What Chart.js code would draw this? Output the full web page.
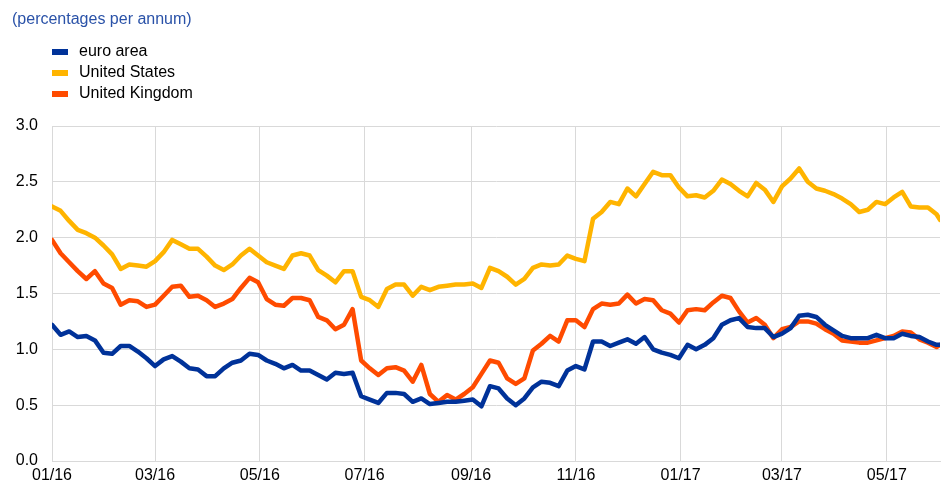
<!DOCTYPE html>
<html lang="en">
<head>
    <meta charset="UTF-8">
    <title>Ten-year government bond yields</title>
    <style>
        body {
            margin: 0;
            background-color: white;
        }
        .container {
            position: relative;
            width: 944px;
            height: 488px;
        }
    </style>
    <script src="https://cdn.jsdelivr.net/npm/chart.js"></script>
</head>
<body>

<div class="container">
    <canvas id="yieldChart"></canvas>
</div>

<script>
    // x positions: days since 1 Jan 2016, sampled every 5 days up to 1 Jun 2017
    const days = [];
    for (let d = 0; d <= 515; d += 5) days.push(d);
    days.push(517);

    // month starts for the axis ticks
    const monthDays = [0, 60, 121, 182, 244, 305, 366, 425, 486];
    const tickLabels = ['01/16', '03/16', '05/16', '07/16', '09/16', '11/16', '01/17', '03/17', '05/17'];

    const seriesNames = ['euro area', 'United States', 'United Kingdom'];

    const euroArea = [
        1.22, 1.13, 1.16, 1.11, 1.12, 1.08, 0.97, 0.96, 1.03, 1.03,
        0.98, 0.92, 0.85, 0.91, 0.94, 0.89, 0.83, 0.82, 0.76, 0.76,
        0.83, 0.88, 0.90, 0.96, 0.95, 0.90, 0.87, 0.83, 0.86, 0.81,
        0.81, 0.77, 0.73, 0.79, 0.78, 0.79, 0.58, 0.55, 0.52, 0.61,
        0.61, 0.60, 0.53, 0.56, 0.51, 0.52, 0.53, 0.53, 0.54, 0.55,
        0.49, 0.67, 0.65, 0.56, 0.50, 0.56, 0.66, 0.71, 0.70, 0.67,
        0.81, 0.85, 0.82, 1.07, 1.07, 1.03, 1.06, 1.09, 1.05, 1.11,
        1.00, 0.97, 0.95, 0.92, 1.04, 1.00, 1.04, 1.10, 1.22, 1.26,
        1.28, 1.20, 1.19, 1.19, 1.11, 1.14, 1.19, 1.30, 1.31, 1.29,
        1.22, 1.17, 1.12, 1.10, 1.10, 1.10, 1.13, 1.10, 1.10, 1.14,
        1.12, 1.11, 1.07, 1.04, 1.04
    ];

    const unitedStates = [
        2.28, 2.24, 2.15, 2.07, 2.04, 2.00, 1.93, 1.85, 1.72, 1.76,
        1.75, 1.74, 1.79, 1.87, 1.98, 1.94, 1.90, 1.90, 1.83, 1.75,
        1.71, 1.76, 1.84, 1.90, 1.84, 1.78, 1.75, 1.72, 1.84, 1.86,
        1.84, 1.71, 1.66, 1.60, 1.70, 1.70, 1.47, 1.44, 1.38, 1.54,
        1.58, 1.58, 1.48, 1.56, 1.53, 1.56, 1.57, 1.58, 1.58, 1.59,
        1.55, 1.73, 1.70, 1.65, 1.58, 1.63, 1.73, 1.76, 1.75, 1.76,
        1.84, 1.81, 1.79, 2.17, 2.23, 2.32, 2.30, 2.44, 2.37, 2.48,
        2.59, 2.56, 2.56, 2.45, 2.37, 2.38, 2.36, 2.42, 2.52, 2.48,
        2.42, 2.37, 2.49, 2.43, 2.32, 2.46, 2.53, 2.62, 2.50, 2.44,
        2.42, 2.39, 2.35, 2.30, 2.23, 2.25, 2.32, 2.30, 2.36, 2.41,
        2.28, 2.27, 2.27, 2.21, 2.16
    ];

    const unitedKingdom = [
        1.98, 1.86, 1.78, 1.70, 1.63, 1.70, 1.59, 1.55, 1.40, 1.44,
        1.43, 1.38, 1.40, 1.48, 1.56, 1.57, 1.47, 1.48, 1.44, 1.38,
        1.41, 1.45, 1.55, 1.64, 1.60, 1.45, 1.40, 1.39, 1.46, 1.46,
        1.44, 1.29, 1.26, 1.18, 1.22, 1.36, 0.90, 0.83, 0.77, 0.83,
        0.84, 0.81, 0.71, 0.86, 0.60, 0.53, 0.59, 0.55, 0.60, 0.66,
        0.78, 0.90, 0.88, 0.74, 0.69, 0.74, 0.99, 1.05, 1.12, 1.07,
        1.26, 1.26, 1.20, 1.36, 1.41, 1.40, 1.41, 1.49, 1.41, 1.45,
        1.44, 1.35, 1.32, 1.24, 1.35, 1.36, 1.35, 1.42, 1.48, 1.46,
        1.34, 1.24, 1.28, 1.22, 1.10, 1.18, 1.20, 1.25, 1.25, 1.23,
        1.18, 1.14, 1.08, 1.07, 1.06, 1.06, 1.08, 1.10, 1.12, 1.16,
        1.15, 1.09, 1.06, 1.02, 1.04
    ];

    const colors = ['#003299', '#FFB400', '#FF4B00'];
    const fontFamily = 'Arial, "Liberation Sans", sans-serif';
    const gridColor = '#d9d9d9';

    function toPoints(values) {
        return values.map((v, i) => ({ x: days[i], y: v }));
    }

    // title and one-per-line legend drawn above the plot
    const headerPlugin = {
        id: 'header',
        afterDraw(chart) {
            const ctx = chart.ctx;
            ctx.save();
            ctx.font = '16px ' + fontFamily;
            ctx.textBaseline = 'middle';
            ctx.textAlign = 'left';
            ctx.fillStyle = '#2a52a8';
            ctx.fillText('(percentages per annum)', 12, 20);
            chart.data.datasets.forEach((ds, i) => {
                const y = 52 + i * 21;
                ctx.fillStyle = ds.borderColor;
                ctx.fillRect(52, y - 3, 16, 6);
                ctx.fillStyle = '#000';
                ctx.fillText(ds.label, 79, y);
            });
            ctx.restore();
        }
    };

    const lineStyle = {
        borderWidth: 4.5,
        pointRadius: 0,
        tension: 0,
        fill: false,
        borderJoinStyle: 'round',
        borderCapStyle: 'round'
    };

    const ctx = document.getElementById('yieldChart').getContext('2d');
    const yieldChart = new Chart(ctx, {
        type: 'line',
        data: {
            datasets: [
                Object.assign({ label: seriesNames[0], data: toPoints(euroArea), borderColor: colors[0], backgroundColor: colors[0] }, lineStyle),
                Object.assign({ label: seriesNames[1], data: toPoints(unitedStates), borderColor: colors[1], backgroundColor: colors[1] }, lineStyle),
                Object.assign({ label: seriesNames[2], data: toPoints(unitedKingdom), borderColor: colors[2], backgroundColor: colors[2] }, lineStyle)
            ]
        },
        options: {
            responsive: true,
            maintainAspectRatio: false,
            animation: false,
            layout: { padding: { top: 126, right: 4, left: 0, bottom: 0 } },
            plugins: {
                legend: { display: false },
                title: { display: false },
                tooltip: { enabled: false }
            },
            scales: {
                x: {
                    type: 'linear',
                    min: 0,
                    max: 517,
                    afterBuildTicks: scale => {
                        scale.ticks = monthDays.map(v => ({ value: v }));
                    },
                    afterFit: scale => { scale.height = 27; },
                    grid: { color: gridColor, drawTicks: false },
                    border: { color: gridColor },
                    ticks: {
                        autoSkip: false,
                        maxRotation: 0,
                        padding: 5,
                        color: '#000',
                        font: { family: fontFamily, size: 16 },
                        callback: (value, index) => tickLabels[index]
                    }
                },
                y: {
                    min: 0,
                    max: 3,
                    afterFit: scale => { scale.width = 52; },
                    grid: { color: gridColor, drawTicks: false },
                    border: { color: gridColor },
                    ticks: {
                        stepSize: 0.5,
                        padding: 14,
                        color: '#000',
                        font: { family: fontFamily, size: 16 },
                        callback: value => value.toFixed(1)
                    }
                }
            }
        },
        plugins: [headerPlugin]
    });
</script>

</body>
</html>
